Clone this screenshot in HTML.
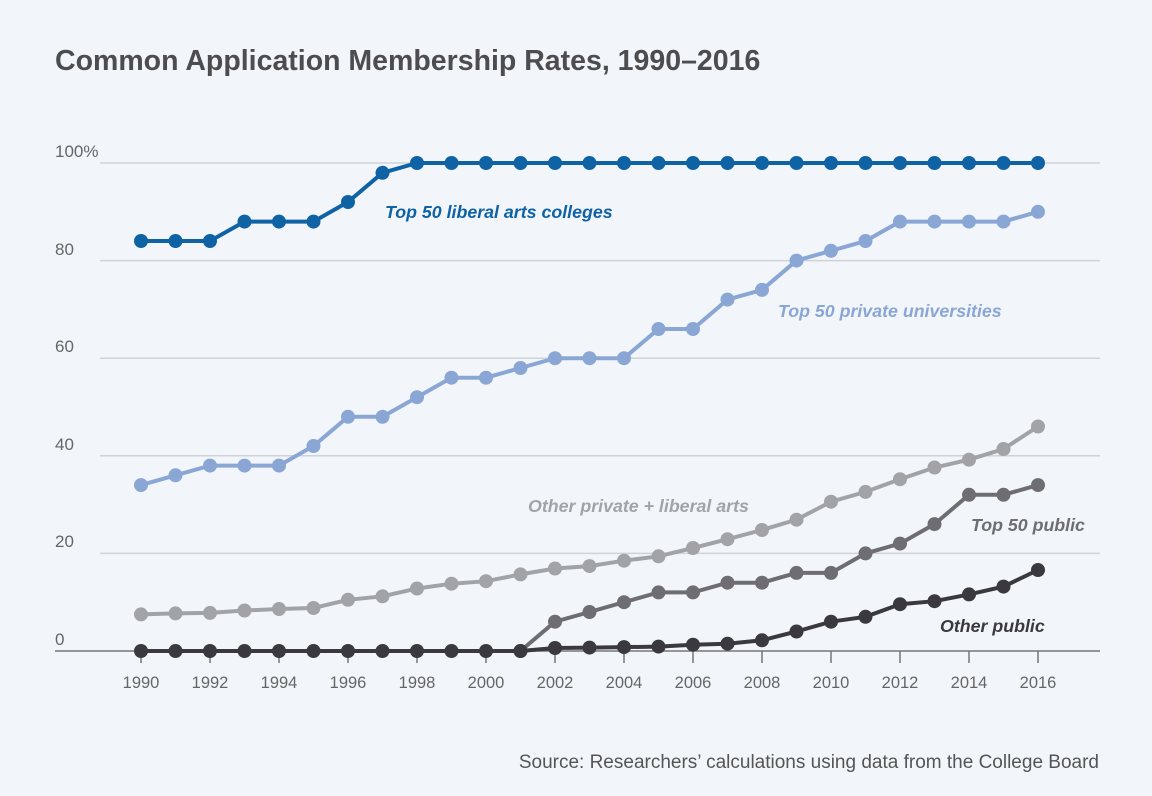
<!DOCTYPE html>
<html><head><meta charset="utf-8"><style>
body{margin:0;background:#f2f6fa;}
svg{display:block;font-family:"Liberation Sans",sans-serif;}
</style></head><body>
<svg width="1152" height="796" viewBox="0 0 1152 796">
<defs>
<marker id="m1" markerUnits="userSpaceOnUse" markerWidth="16" markerHeight="16" refX="8" refY="8"><circle cx="8" cy="8" r="7" fill="#0f63a5"/></marker>
<marker id="m2" markerUnits="userSpaceOnUse" markerWidth="16" markerHeight="16" refX="8" refY="8"><circle cx="8" cy="8" r="7" fill="#8aa6d5"/></marker>
<marker id="m3" markerUnits="userSpaceOnUse" markerWidth="16" markerHeight="16" refX="8" refY="8"><circle cx="8" cy="8" r="7" fill="#a2a3a7"/></marker>
<marker id="m4" markerUnits="userSpaceOnUse" markerWidth="16" markerHeight="16" refX="8" refY="8"><circle cx="8" cy="8" r="7" fill="#6e6e72"/></marker>
<marker id="m5" markerUnits="userSpaceOnUse" markerWidth="16" markerHeight="16" refX="8" refY="8"><circle cx="8" cy="8" r="7" fill="#3a3a3e"/></marker>
</defs>
<rect width="1152" height="796" fill="#f2f6fa"/>
<text x="55" y="70" font-size="28.5" font-weight="bold" fill="#4d4d4f">Common Application Membership Rates, 1990–2016</text>
<g stroke="#cfd3d8" stroke-width="1.5">
<line x1="100" y1="163" x2="1100" y2="163"/>
<line x1="100" y1="260.6" x2="1100" y2="260.6"/>
<line x1="100" y1="358.2" x2="1100" y2="358.2"/>
<line x1="100" y1="455.8" x2="1100" y2="455.8"/>
<line x1="100" y1="553.4" x2="1100" y2="553.4"/>
</g>
<line x1="55" y1="651" x2="1100" y2="651" stroke="#777" stroke-width="1.5"/>
<g font-size="17" fill="#666">
<text x="55" y="157">100%</text><text x="55" y="255">80</text><text x="55" y="352">60</text><text x="55" y="450">40</text><text x="55" y="547">20</text><text x="55" y="645">0</text>
</g>
<g stroke="#777" stroke-width="1.5">
<line x1="141" y1="651" x2="141" y2="663"/><line x1="210" y1="651" x2="210" y2="663"/><line x1="279" y1="651" x2="279" y2="663"/><line x1="348" y1="651" x2="348" y2="663"/><line x1="417" y1="651" x2="417" y2="663"/><line x1="486" y1="651" x2="486" y2="663"/><line x1="555" y1="651" x2="555" y2="663"/><line x1="624" y1="651" x2="624" y2="663"/><line x1="693" y1="651" x2="693" y2="663"/><line x1="762" y1="651" x2="762" y2="663"/><line x1="831" y1="651" x2="831" y2="663"/><line x1="900" y1="651" x2="900" y2="663"/><line x1="969" y1="651" x2="969" y2="663"/><line x1="1038" y1="651" x2="1038" y2="663"/>
</g>
<g font-size="16.5" fill="#666" text-anchor="middle">
<text x="141" y="688">1990</text><text x="210" y="688">1992</text><text x="279" y="688">1994</text><text x="348" y="688">1996</text><text x="417" y="688">1998</text><text x="486" y="688">2000</text><text x="555" y="688">2002</text><text x="624" y="688">2004</text><text x="693" y="688">2006</text><text x="762" y="688">2008</text><text x="831" y="688">2010</text><text x="900" y="688">2012</text><text x="969" y="688">2014</text><text x="1038" y="688">2016</text>
</g>
<g fill="none" stroke-width="4">
<polyline stroke="#8aa6d5" marker-start="url(#m2)" marker-mid="url(#m2)" marker-end="url(#m2)" points="141,485.1 175.5,475.3 210,465.6 244.5,465.6 279,465.6 313.5,446 348,416.8 382.5,416.8 417,397.2 451.5,377.7 486,377.7 520.5,368 555,358.2 589.5,358.2 624,358.2 658.5,329 693,329 727.5,299.6 762,289.9 796.5,260.6 831,250.8 865.5,241 900,221.6 934.5,221.6 969,221.6 1003.5,221.6 1038,211.8"/>
<polyline stroke="#0f63a5" marker-start="url(#m1)" marker-mid="url(#m1)" marker-end="url(#m1)" points="141,241 175.5,241 210,241 244.5,221.6 279,221.6 313.5,221.6 348,202 382.5,172.8 417,163 451.5,163 486,163 520.5,163 555,163 589.5,163 624,163 658.5,163 693,163 727.5,163 762,163 796.5,163 831,163 865.5,163 900,163 934.5,163 969,163 1003.5,163 1038,163"/>
<polyline stroke="#a2a3a7" marker-start="url(#m3)" marker-mid="url(#m3)" marker-end="url(#m3)" points="141,614.4 175.5,613.4 210,612.9 244.5,610.5 279,609 313.5,608 348,599.8 382.5,596.3 417,588.5 451.5,583.7 486,581.2 520.5,574.4 555,568.5 589.5,566.1 624,560.7 658.5,556.3 693,548 727.5,539.2 762,530 796.5,519.7 831,501.7 865.5,491.9 900,479.2 934.5,467.5 969,459.7 1003.5,449 1038,426.5"/>
<polyline stroke="#6e6e72" marker-start="url(#m4)" marker-mid="url(#m4)" marker-end="url(#m4)" points="520.5,651 555,621.7 589.5,612 624,602.2 658.5,592.4 693,592.4 727.5,582.7 762,582.7 796.5,572.9 831,572.9 865.5,553.4 900,543.6 934.5,524.1 969,494.8 1003.5,494.8 1038,485.1"/>
<polyline stroke="#3a3a3e" marker-start="url(#m5)" marker-mid="url(#m5)" marker-end="url(#m5)" points="141,651 175.5,651 210,651 244.5,651 279,651 313.5,651 348,651 382.5,651 417,651 451.5,651 486,651 520.5,651 555,648 589.5,647.6 624,647.1 658.5,646.6 693,644.7 727.5,643.7 762,640.3 796.5,631.5 831,621.7 865.5,616.8 900,604.2 934.5,601.2 969,594.4 1003.5,586.6 1038,570"/>
</g>
<g font-size="17.8" font-style="italic" font-weight="bold">
<text x="385" y="218" fill="#0f63a5">Top 50 liberal arts colleges</text>
<text x="778" y="317" fill="#8aa6d5">Top 50 private universities</text>
<text x="528" y="512" fill="#a2a3a7">Other private + liberal arts</text>
<text x="971" y="531" fill="#6e6e72">Top 50 public</text>
<text x="940" y="632" fill="#3a3a3e">Other public</text>
</g>
<text x="1099" y="768" font-size="19" fill="#555" text-anchor="end">Source: Researchers’ calculations using data from the College Board</text>
</svg>
</body></html>
